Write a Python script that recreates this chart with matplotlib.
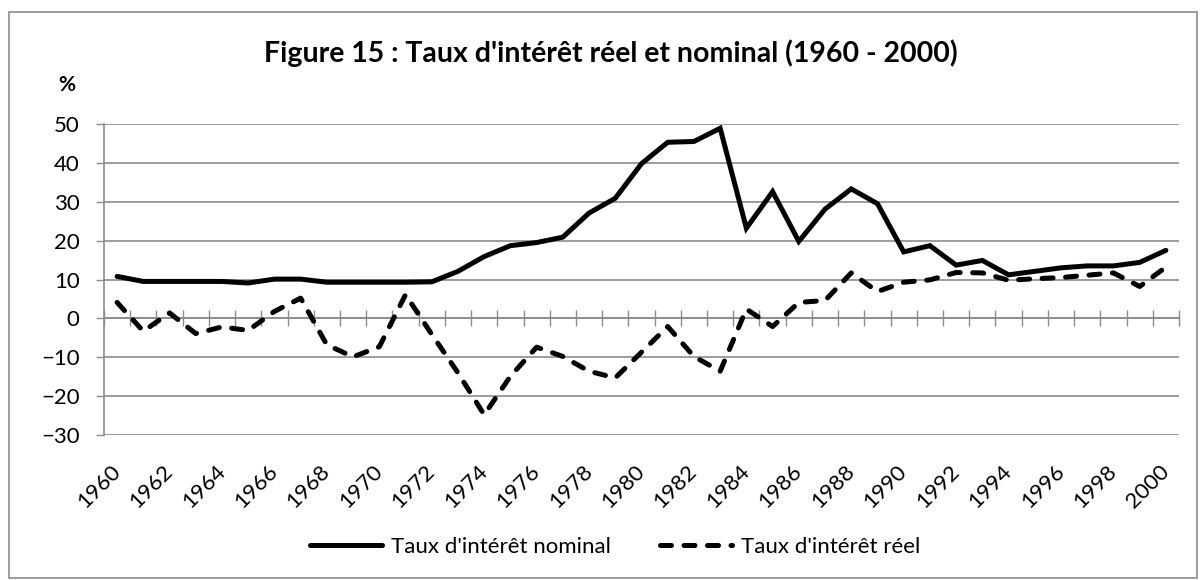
import matplotlib.pyplot as plt
from matplotlib.patches import Rectangle

years = list(range(1960, 2001))
nominal = [10.8, 9.5, 9.5, 9.5, 9.5, 9.1, 10.1, 10.1, 9.3, 9.3,
           9.3, 9.3, 9.4, 12.1, 15.9, 18.7, 19.5, 20.9, 27.1, 30.9,
           39.8, 45.3, 45.5, 48.9, 23.2, 32.6, 19.8, 28.1, 33.3, 29.5,
           17.1, 18.7, 13.7, 14.9, 11.2, 12.1, 13.0, 13.5, 13.5, 14.4,
           17.5]
reel = [4.1, -3.3, 1.4, -3.9, -2.2, -3.1, 1.8, 5.2, -6.8, -9.9,
        -7.3, 6.1, -4.1, -14.0, -24.8, -14.9, -7.4, -9.8, -13.6, -15.3,
        -8.7, -2.1, -9.8, -13.6, 2.4, -2.1, 4.1, 4.6, 11.7, 6.9,
        9.3, 9.9, 11.8, 11.7, 9.8, 10.2, 10.5, 11.1, 11.7, 8.2,
        13.2]
yticks = [50, 40, 30, 20, 10, 0, -10, -20, -30]
xlabels = list(range(1960, 2001, 2))

plt.rcParams['font.family'] = ['Lato', 'DejaVu Sans']
grey = '#8c8c8c'

fig = plt.figure(figsize=(12.03, 5.8), dpi=100)
ax = fig.add_axes([104 / 1203, 1 - 435 / 580, (1179 - 104) / 1203, (435 - 124) / 580])

ax.plot(years, nominal, color='black', lw=3.6, solid_capstyle='round',
        solid_joinstyle='miter', label="Taux d'intérêt nominal", zorder=3)
ax.plot(years, reel, color='black', lw=3.6, dashes=(2.2, 2.5),
        dash_capstyle='round', label="Taux d'intérêt réel", zorder=3)

ax.set_xlim(1959.5, 2000.5)
ax.set_ylim(-30, 50)
ax.set_yticks(yticks)
ax.yaxis.grid(True, color=grey, lw=1.2)
ax.set_axisbelow(True)
ax.tick_params(axis='y', length=5.5, color=grey, width=1, labelsize=16, pad=12)

for s in ['top', 'right']:
    ax.spines[s].set_visible(False)
ax.spines['left'].set_color(grey)
ax.spines['left'].set_linewidth(1.2)
ax.spines['bottom'].set_position(('data', 0))
ax.spines['bottom'].set_color(grey)
ax.spines['bottom'].set_linewidth(1.2)

# category tick marks between years, crossing the zero line
ax.set_xticks([y + 0.5 for y in range(1959, 2000)] + [2000.5])
ax.set_xticklabels([])
ax.tick_params(axis='x', direction='inout', length=12, color=grey, width=1)

# year labels at the bottom
sec = ax.secondary_xaxis(0)
sec.set_xticks(xlabels)
sec.set_xticklabels([str(y) for y in xlabels], rotation=45, ha='right', va='center',
                    rotation_mode='anchor', fontsize=16)
sec.tick_params(length=0, pad=24)
sec.spines['bottom'].set_visible(False)

fig.text(611 / 1203, 1 - 62 / 580, "Figure 15 : Taux d'intérêt réel et nominal (1960 - 2000)",
         ha='center', va='baseline', fontsize=20.5, fontweight='bold')
fig.text(67 / 1203, 1 - 85 / 580, '%', ha='center', va='center', fontsize=15, fontweight='bold')

fig.legend(loc='center', bbox_to_anchor=(615 / 1203, 1 - 547 / 580), ncol=2,
           frameon=False, fontsize=16, handlelength=3.25, columnspacing=2.2,
           handletextpad=0.4)

fig.patches.append(Rectangle((9 / 1203, 2 / 580), 1188 / 1203, 566 / 580,
                             transform=fig.transFigure, fill=False,
                             edgecolor=grey, lw=1.2))

fig.savefig('out.png', dpi=100)
